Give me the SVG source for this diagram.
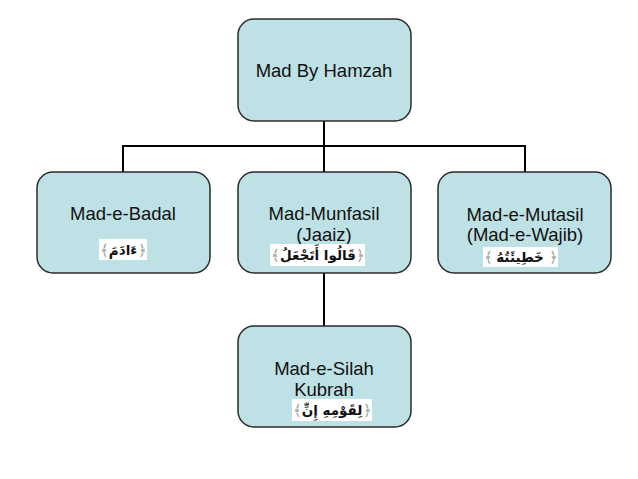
<svg xmlns="http://www.w3.org/2000/svg" width="638" height="479" viewBox="0 0 638 479">
<style>
.box{fill:#bde1e5;stroke:#2b2b2b;stroke-width:1.5}
.lbl{font-family:"Liberation Sans",Arial,sans-serif;font-size:18.5px;fill:#111;text-anchor:middle}
.ar{font-family:"DejaVu Sans",sans-serif;font-size:13.5px;font-weight:bold;fill:#111;text-anchor:middle}
.br{font-family:"DejaVu Sans",sans-serif;font-size:15px;fill:#999;text-anchor:middle}
.wb{fill:#fff}
.con{fill:none;stroke:#000;stroke-width:2}
</style>
<rect width="638" height="479" fill="#fff"/>
<g id="connectors">
<path class="con" d="M324 121V146M123 172V146H525V172M324 146V172M324 273V326"/>
</g>
<g id="n-hamzah">
<rect class="box" x="238" y="19" width="173" height="102" rx="16"/>
<text class="lbl" x="324" y="77">Mad By Hamzah</text>
</g>
<g id="n-badal">
<rect class="box" x="37" y="172" width="173" height="101" rx="16"/>
<text class="lbl" x="123" y="220">Mad-e-Badal</text>
<rect class="wb" x="99" y="239" width="48" height="21"/>
<text class="br" x="104" y="255">﴾</text>
<text class="ar" dir="rtl" x="123" y="255">ءَادَمَ</text>
<text class="br" x="142" y="255">﴿</text>
</g>
<g id="n-munfasil">
<rect class="box" x="238" y="172" width="173" height="101" rx="16"/>
<text class="lbl" x="324" y="220">Mad-Munfasil</text>
<text class="lbl" x="324" y="241">(Jaaiz)</text>
<rect class="wb" x="270" y="244" width="95" height="22"/>
<text class="br" x="275" y="260">﴾</text>
<text class="ar" dir="rtl" x="318" y="260">قَالُوا أَتَجْعَلُ</text>
<text class="br" x="360" y="260">﴿</text>
</g>
<g id="n-mutasil">
<rect class="box" x="438" y="172" width="173" height="101" rx="16"/>
<text class="lbl" x="525" y="221">Mad-e-Mutasil</text>
<text class="lbl" x="525" y="241">(Mad-e-Wajib)</text>
<rect class="wb" x="483" y="247" width="75" height="20"/>
<text class="br" x="488" y="262">﴾</text>
<text class="ar" dir="rtl" x="520" y="262">خَطِيئَتُهُ</text>
<text class="br" x="553" y="262">﴿</text>
</g>
<g id="n-silah">
<rect class="box" x="238" y="326" width="173" height="101" rx="16"/>
<text class="lbl" x="324" y="375">Mad-e-Silah</text>
<text class="lbl" x="324" y="396">Kubrah</text>
<rect class="wb" x="292" y="399" width="80" height="22"/>
<text class="br" x="297" y="415">﴾</text>
<text class="ar" dir="rtl" x="332" y="415">لِقَوْمِهِ إِنِّ</text>
<text class="br" x="367" y="415">﴿</text>
</g>
</svg>
